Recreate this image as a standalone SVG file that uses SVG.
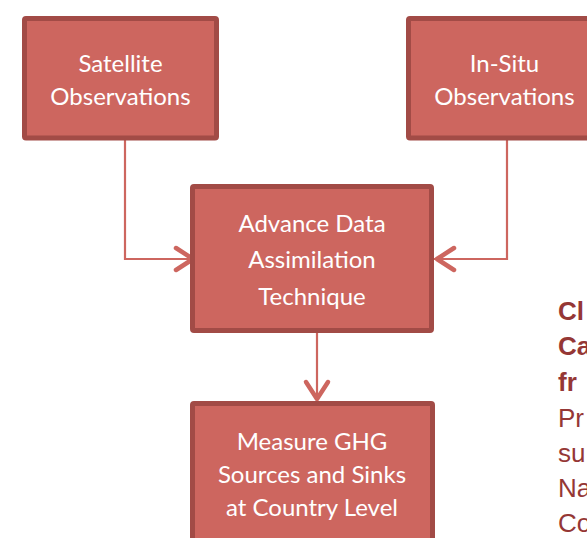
<svg xmlns="http://www.w3.org/2000/svg" width="587" height="538" viewBox="0 0 587 538">
  <defs>
    <style>
      .box { fill: #CD665F; stroke: #A24B46; stroke-width: 5; }
      .lbl { fill: #FFFFFF; font-family: Lato, "Open Sans", sans-serif; font-size: 24px; text-anchor: middle; }
      .conn { fill: none; stroke: #CD665F; stroke-width: 2.2; }
      .head { fill: none; stroke: #CD665F; stroke-width: 4.5; stroke-linecap: round; stroke-linejoin: round; }
      .side { fill: #953735; font-family: "Liberation Sans", Arial, sans-serif; font-size: 26px; }
      .side.b { font-weight: bold; }
    </style>
  </defs>

  <rect width="587" height="538" fill="#FFFFFF"/>

  <!-- connectors -->
  <g id="connectors">
    <polyline class="conn" points="125,140 125,259 190,259"/>
    <polyline class="head" points="176,248 193,259 176,270"/>
    <polyline class="conn" points="507,140 507,259 434,259"/>
    <polyline class="head" points="454,248 437,259 454,270"/>
    <line class="conn" x1="317" y1="333" x2="317" y2="401"/>
    <polyline class="head" points="306,382 317,399 328,382"/>
  </g>

  <g id="satellite">
    <rect class="box" x="24.5" y="18.5" width="192" height="119.5" rx="1.5"/>
    <text class="lbl" x="120.5" y="72">Satellite</text>
    <text class="lbl" x="120.5" y="105">Observations</text>
  </g>

  <g id="insitu">
    <rect class="box" x="408.5" y="18.5" width="192" height="119.5" rx="1.5"/>
    <text class="lbl" x="504.5" y="72">In-Situ</text>
    <text class="lbl" x="504.5" y="105">Observations</text>
  </g>

  <g id="assimilation">
    <rect class="box" x="192.5" y="186.5" width="239" height="144" rx="1.5"/>
    <text class="lbl" x="312" y="232">Advance Data</text>
    <text class="lbl" x="312" y="268">Assimilation</text>
    <text class="lbl" x="312" y="305">Technique</text>
  </g>

  <g id="measure">
    <rect class="box" x="192.5" y="403.5" width="240" height="150" rx="1.5"/>
    <text class="lbl" x="312" y="450">Measure GHG</text>
    <text class="lbl" x="312" y="483">Sources and Sinks</text>
    <text class="lbl" x="312" y="516">at Country Level</text>
  </g>

  <!-- side text, running past the right edge -->
  <g id="sidetext">
    <text class="side b" x="558" y="320">Cl</text>
    <text class="side b" x="558" y="355">Ca</text>
    <text class="side b" x="558" y="391">fr</text>
    <text class="side" x="558" y="427">Pr</text>
    <text class="side" x="558" y="462">su</text>
    <text class="side" x="558" y="497">Na</text>
    <text class="side" x="558" y="532">Co</text>
  </g>
</svg>
